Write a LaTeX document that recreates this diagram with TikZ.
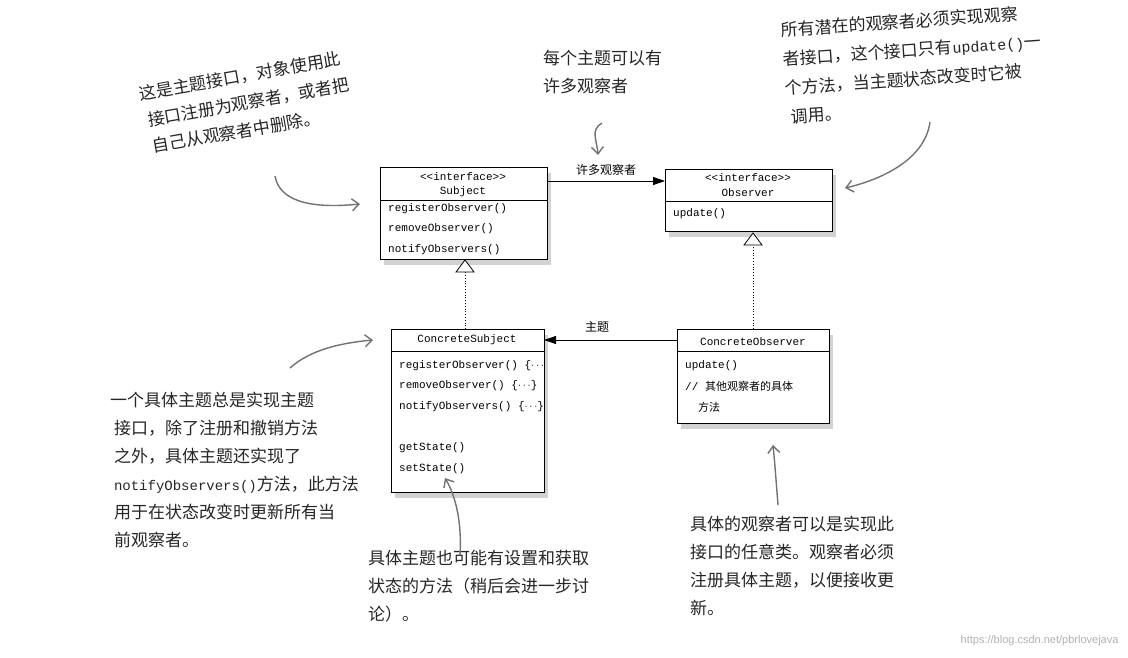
\documentclass[tikz,border=0pt]{standalone}
\usepackage{fontspec}
\setmonofont{Liberation Mono}
\newfontfamily\cjk{Noto Sans CJK SC}
\usetikzlibrary{arrows.meta,shadows}
\begin{document}
\begin{tikzpicture}[x=1pt,y=-1pt,
  box/.style={draw,thick,fill=white,drop shadow={shadow xshift=4pt,shadow yshift=-6pt,opacity=0.35}},
  mono/.style={font=\ttfamily\fontsize{11}{12}\selectfont,anchor=west,inner sep=0},
  monoc/.style={font=\ttfamily\fontsize{11}{12}\selectfont,inner sep=0},
  note/.style={font=\cjk\fontsize{17}{28}\selectfont,align=left,inner sep=0,text=black!85},
  hand/.style={draw=black!55,line width=1.4pt,-{Straight Barb[length=7pt,width=12pt]}},
  dot/.style={dotted,thick}]
\useasboundingbox (0,0) rectangle (1128,658);
\fill[white] (0,0) rectangle (1128,658);
% Subject
\draw[box] (380,167) rectangle (547,259);
\draw[thick] (380,200)--(547,200);
\node[monoc] at (463,177) {<<interface>>};
\node[monoc] at (463,192) {Subject};
\node[mono] at (388,209) {registerObserver()};
\node[mono] at (388,229) {removeObserver()};
\node[mono] at (388,250) {notifyObservers()};
\coordinate (subjR) at (547,181);
% Observer
\draw[box] (665,169) rectangle (832,231);
\draw[thick] (665,201)--(832,201);
\node[monoc] at (748,178) {<<interface>>};
\node[monoc] at (748,193) {Observer};
\node[mono] at (673,214) {update()};
\coordinate (obsL) at (665,181);
% ConcreteSubject
\draw[box] (391,329) rectangle (544,492);
\draw[thick] (391,351)--(544,351);
\node[monoc] at (467,340) {ConcreteSubject};
\node[mono] at (399,366) {registerObserver() \{$\cdots$};
\node[mono] at (399,386) {removeObserver() \{$\cdots$\}};
\node[mono] at (399,407) {notifyObservers() \{$\cdots$\}};
\node[mono] at (399,448) {getState()};
\node[mono] at (399,469) {setState()};
\coordinate (csR) at (544,340);
\coordinate (csT) at (465,329);
% ConcreteObserver
\draw[box] (677,329) rectangle (829,423);
\draw[thick] (677,351)--(829,351);
\node[monoc] at (753,342) {ConcreteObserver};
\node[mono] at (685,366) {update()};
\node[mono] at (685,386) {// {\cjk 其他观察者的具体}};
\node[mono] at (698,407) {{\cjk 方法}};
\coordinate (coL) at (677,340);
\coordinate (coT) at (753,329);
% connectors
\draw[thick,-{Triangle[length=12pt,width=8pt]}] (subjR) -- (obsL) node[midway,above=2pt,font=\cjk\fontsize{12}{12}\selectfont]{许多观察者};
\draw[thick,-{Triangle[length=12pt,width=8pt]}] (coL) -- (csR) node[pos=0.6,above=4pt,font=\cjk\fontsize{12}{12}\selectfont]{主题};
\draw[dot] (csT) -- (465,272);
\draw[thick,fill=white] (465,260)--(456,272)--(474,272)--cycle;
\draw[dot] (coT) -- (753,245);
\draw[thick,fill=white] (753,233)--(744,245)--(762,245)--cycle;
% notes
\node[note,rotate=10,anchor=north west,font=\cjk\fontsize{17}{27}\selectfont] at (138,86) {这是主题接口，对象使用此\\\ 接口注册为观察者，或者把\\\ 自己从观察者中删除。};
\draw[hand] (275,176) .. controls (280,205) and (320,208) .. (360,204);
\node[note,anchor=north west] at (543,50) {每个主题可以有\\许多观察者};
\draw[hand] (602,123) .. controls (590,130) and (597,140) .. (598,155);
\node[note,rotate=4,anchor=north west,font=\cjk\fontsize{17}{29}\selectfont] at (780,22) {所有潜在的观察者必须实现观察\\者接口，这个接口只有{\ttfamily\fontsize{15}{15}\selectfont update()}一\\个方法，当主题状态改变时它被\\\ 调用。};
\draw[hand] (930,122) .. controls (925,160) and (880,180) .. (845,188);
\draw[hand] (290,368) .. controls (310,350) and (340,343) .. (373,340);
\node[note,anchor=north west] at (110,392) {一个具体主题总是实现主题\\\ 接口，除了注册和撤销方法\\\ 之外，具体主题还实现了\\\ {\ttfamily\fontsize{14}{14}\selectfont notifyObservers()}方法，此方法\\\ 用于在状态改变时更新所有当\\\ 前观察者。};
\node[note,anchor=north west] at (368,550) {具体主题也可能有设置和获取\\状态的方法（稍后会进一步讨\\论）。};
\draw[hand] (460,555) .. controls (462,520) and (455,495) .. (445,478);
\node[note,anchor=north west] at (690,516) {具体的观察者可以是实现此\\接口的任意类。观察者必须\\注册具体主题，以便接收更\\新。};
\draw[hand] (778,505) .. controls (776,480) and (775,465) .. (773,445);
\node[font=\fontspec{Liberation Sans}\fontsize{11}{12}\selectfont,text=black!30,anchor=east] at (1122,641) {https://blog.csdn.net/pbrlovejava};
\end{tikzpicture}
\end{document}
